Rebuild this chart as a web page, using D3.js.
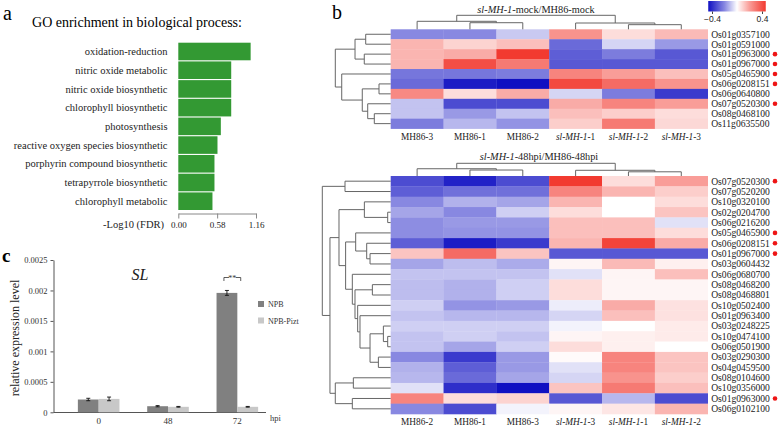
<!DOCTYPE html>
<html>
<head>
<meta charset="utf-8">
<script src="https://cdn.jsdelivr.net/npm/d3@7"></script>
<style>
body { margin: 0; background: #fff; }
svg { display: block; font-family: "Liberation Serif", "Times New Roman", serif; }
</style>
</head>
<body>
<svg id="fig" width="778" height="427"></svg>
<script>
// ---------- panel a : GO enrichment ----------
var goTerms = ["oxidation-reduction", "nitric oxide metabolic", "nitric oxide biosynthetic",
    "chlorophyll biosynthetic", "photosynthesis", "reactive oxygen species biosynthetic",
    "porphyrin compound biosynthetic", "tetrapyrrole biosynthetic", "chlorophyll metabolic"];
var goFdr = [1.08, 0.79, 0.79, 0.79, 0.635, 0.585, 0.54, 0.54, 0.51];
var goTicks = [0, 0.58, 1.16];

// ---------- panel c : qPCR ----------
var hpi = ["0", "48", "72"];
var lines = ["NPB", "NPB-Pizt"];
var exprNPB = [0.00021, 0.0001, 0.00196];
var errNPB = [0.00002, 0.00001, 0.00004];
var exprPizt = [0.00022, 0.00009, 0.00009];
var errPizt = [0.00003, 0.000006, 0.000006];
var exprTicks = [0, 0.0005, 0.001, 0.0015, 0.002, 0.0025];

// ---------- panel b : heatmaps ----------
var topCols = ["MH86-3", "MH86-1", "MH86-2", "sl-MH-1-1", "sl-MH-1-2", "sl-MH-1-3"];
var topGenes = ["Os01g0357100", "Os01g0591000", "Os01g0963000", "Os01g0967000", "Os05g0465900",
    "Os06g0208151", "Os06g0640800", "Os07g0520300", "Os08g0468100", "Os11g0635500"];
var topValues = [
    [-0.2, -0.2, -0.09, 0.22, 0.07, 0.14],
    [0.15, 0.09, 0.13, -0.25, -0.07, -0.17],
    [0.15, 0.17, 0.42, -0.27, -0.22, -0.28],
    [0.15, 0.36, 0.27, -0.28, -0.28, -0.28],
    [-0.23, -0.23, -0.22, 0.25, 0.2, 0.13],
    [-0.25, -0.38, -0.46, 0.37, 0.3, 0.22],
    [0.24, 0.07, 0.17, -0.07, -0.22, -0.33],
    [-0.1, -0.3, -0.3, 0.17, 0.25, 0.2],
    [-0.1, -0.17, -0.1, 0.13, 0.1, 0.07],
    [-0.22, -0.12, -0.18, 0.1, 0.27, 0.08]
];
var topMarked = ["Os01g0963000", "Os01g0967000", "Os05g0465900", "Os06g0208151", "Os07g0520300"];
// trees: [height, left, right], leaves are row/column indices
var topRowTree = [1.0, [0.644, [0.451, 0, 1], [0.477, 2, 3]],
    [0.884, 4, [0.513, [0.211, 5, 6], [0.415, 7, [0.296, 8, 9]]]]];
var topColTree = [1.0, [0.571, 0, [0.471, 1, 2]], [0.45, 3, [0.33, 4, 5]]];

var botCols = ["MH86-2", "MH86-1", "MH86-3", "sl-MH-1-3", "sl-MH-1-1", "sl-MH-1-2"];
var botGenes = ["Os07g0520300", "Os07g0520200", "Os10g0320100", "Os02g0204700", "Os06g0216200",
    "Os05g0465900", "Os06g0208151", "Os01g0967000", "Os03g0604432", "Os06g0680700",
    "Os08g0468200", "Os08g0468801", "Os10g0502400", "Os01g0963400", "Os03g0248225",
    "Os10g0474100", "Os06g0501900", "Os03g0290300", "Os04g0459500", "Os08g0104600",
    "Os10g0356000", "Os01g0963000", "Os06g0102100"];
var botValues = [
    [-0.3, -0.37, -0.3, 0.4, 0.07, 0.2],
    [-0.27, -0.24, -0.24, 0.25, 0.15, 0.1],
    [-0.2, -0.13, -0.15, 0.15, 0.0, 0.07],
    [-0.15, -0.2, -0.08, 0.07, 0.0, 0.12],
    [-0.19, -0.17, -0.17, 0.13, 0.13, -0.05],
    [-0.19, -0.18, -0.18, 0.13, 0.13, 0.07],
    [-0.27, -0.38, -0.33, 0.15, 0.38, 0.17],
    [0.12, 0.3, 0.12, -0.28, -0.28, -0.28],
    [-0.15, -0.11, -0.14, 0.02, 0.14, 0.03],
    [-0.1, -0.1, -0.1, -0.05, 0.02, 0.13],
    [-0.11, -0.13, -0.08, 0.07, 0.02, 0.02],
    [-0.11, -0.13, -0.08, 0.07, 0.02, 0.02],
    [-0.08, -0.18, -0.17, -0.03, 0.17, 0.06],
    [-0.1, -0.12, -0.12, -0.07, 0.13, 0.06],
    [-0.08, -0.08, -0.08, -0.02, 0.0, 0.04],
    [-0.1, -0.08, -0.1, 0.02, 0.03, 0.04],
    [-0.1, -0.15, -0.08, 0.07, 0.03, 0.0],
    [-0.2, -0.33, -0.17, 0.01, 0.25, 0.12],
    [-0.13, -0.27, -0.17, -0.05, 0.25, 0.12],
    [-0.12, -0.25, -0.15, -0.07, 0.22, 0.1],
    [-0.05, -0.35, -0.45, 0.12, 0.27, 0.13],
    [0.25, 0.07, 0.09, -0.28, -0.12, -0.3],
    [-0.2, -0.3, -0.02, 0.02, 0.05, 0.15]
];
var botMarked = ["Os07g0520300", "Os05g0465900", "Os06g0208151", "Os01g0967000", "Os01g0963000"];
var botRowTree = [1.0,
    [0.668, 0, 1],
    [0.888,
        [0.756,
            [0.385, 2, [0.044, 3, 4]],
            [0.659,
                [0.512, 5, [0.351, 6, [0.302, 7, 8]]],
                [0.561, 9, [0.522, [0.268, 10, 11],
                    [0.483, 12, [0.449, 13, [0.302, [0.107, 14, [0.044, 15, 16]], [0.18, 17, 18]]]]]]]],
        [0.81, [0.546, 19, 20], [0.561, 21, 22]]]];
var botColTree = [1.0, [0.571, 0, [0.471, 1, 2]], [0.45, 3, [0.33, 4, 5]]];

var colorTicks = [-0.4, 0.4];

var svg = d3.select("#fig");

var heatColor = d3.scaleLinear()
    .domain([-0.4, 0, 0.4])
    .range(["#1010c2", "#ffffff", "#f23a30"])
    .clamp(true);

// ======== panel a ========
(function () {
    var g = svg.append("g");
    g.append("text").attr("x", 3).attr("y", 20).attr("font-size", 20).text("a");
    g.append("text").attr("x", 137).attr("y", 27).attr("font-size", 14)
        .attr("text-anchor", "middle").text("GO enrichment in biological process:");

    var x = d3.scaleLinear().domain([0, 1.16]).range([178.3, 256]);
    var y = d3.scaleBand().domain(goTerms).range([42.7, 210]).paddingInner(0.06);

    g.selectAll("rect.go").data(goTerms).enter().append("rect")
        .attr("x", x(0))
        .attr("y", function (d) { return y(d); })
        .attr("width", function (d, i) { return x(goFdr[i]) - x(0); })
        .attr("height", y.bandwidth())
        .attr("fill", "#339933");

    g.selectAll("text.go").data(goTerms).enter().append("text")
        .attr("x", 167.5)
        .attr("y", function (d) { return y(d) + y.bandwidth() / 2; })
        .attr("dy", "0.35em")
        .attr("text-anchor", "end")
        .attr("font-size", 10.5)
        .attr("fill", "#222")
        .text(function (d) { return d; });

    var ax = g.append("g").attr("transform", "translate(0,213.5)")
        .call(d3.axisBottom(x).tickValues(goTicks).tickFormat(d3.format(".2f")).tickSize(5).tickSizeOuter(0));
    ax.select(".domain").attr("stroke", "#888");
    ax.selectAll(".tick line").attr("stroke", "#888");
    ax.selectAll(".tick text").attr("font-family", "Liberation Serif").attr("font-size", 9).attr("fill", "#222");

    g.append("text").attr("x", 164).attr("y", 228).attr("text-anchor", "end")
        .attr("font-size", 10.5).attr("fill", "#222").text("-Log10 (FDR)");
})();

// ======== panel c ========
(function () {
    var g = svg.append("g");
    g.append("text").attr("x", 2).attr("y", 262).attr("font-size", 19).attr("font-weight", "bold").text("c");

    var y = d3.scaleLinear().domain([0, 0.0025]).range([412.3, 260]);
    var x0 = d3.scaleBand().domain(hpi).range([64, 272]).paddingInner(0.4).paddingOuter(0.2);
    var x1 = d3.scaleBand().domain(lines).range([0, x0.bandwidth()]);
    var color = d3.scaleOrdinal().domain(lines).range(["#808080", "#c8c8c8"]);
    var series = [
        { name: "NPB", values: exprNPB, errs: errNPB },
        { name: "NPB-Pizt", values: exprPizt, errs: errPizt }
    ];

    var ay = g.append("g").attr("transform", "translate(53.5,0)")
        .call(d3.axisLeft(y).tickValues(exprTicks).tickFormat(String).tickSize(3).tickSizeOuter(0));
    ay.select(".domain").attr("stroke", "#555");
    ay.selectAll(".tick line").attr("stroke", "#555");
    ay.selectAll(".tick text").attr("font-family", "Liberation Serif").attr("font-size", 8.5).attr("fill", "#333");

    var ax = g.append("g").attr("transform", "translate(0,412.5)")
        .call(d3.axisBottom(x0).tickSize(0).tickPadding(5));
    ax.select(".domain").remove();
    ax.selectAll(".tick text").attr("font-family", "Liberation Serif").attr("font-size", 9).attr("fill", "#333");
    g.append("line").attr("x1", 53.5).attr("x2", 266).attr("y1", 412.5).attr("y2", 412.5).attr("stroke", "#555");
    g.append("text").attr("x", 270).attr("y", 421).attr("font-size", 8.5).attr("fill", "#333").text("hpi");

    series.forEach(function (s) {
        var sg = g.append("g");
        sg.selectAll("rect").data(hpi).enter().append("rect")
            .attr("x", function (d) { return x0(d) + x1(s.name); })
            .attr("y", function (d, i) { return y(s.values[i]); })
            .attr("width", x1.bandwidth())
            .attr("height", function (d, i) { return y(0) - y(s.values[i]); })
            .attr("fill", color(s.name));
        sg.selectAll("path").data(hpi).enter().append("path")
            .attr("d", function (d, i) {
                var cx = x0(d) + x1(s.name) + x1.bandwidth() / 2;
                var hi = y(s.values[i] + s.errs[i]), lo = y(s.values[i] - s.errs[i]);
                return "M" + (cx - 2) + "," + hi + "H" + (cx + 2) + "M" + cx + "," + hi + "V" + lo +
                    "M" + (cx - 2) + "," + lo + "H" + (cx + 2);
            })
            .attr("stroke", "#111").attr("stroke-width", 0.9).attr("fill", "none");
    });

    // significance bracket at 72 hpi
    var bx1 = x0("72") + x1("NPB") + x1.bandwidth() / 2 - 3;
    var bx2 = x0("72") + x1("NPB-Pizt") + x1.bandwidth() / 2 - 7;
    var by = 277.5;
    g.append("path")
        .attr("d", "M" + bx1 + "," + (by + 3.5) + "V" + by + "H" + (bx1 + 5) +
            "M" + (bx2 - 5) + "," + by + "H" + bx2 + "V" + (by + 3.5))
        .attr("stroke", "#333").attr("stroke-width", 0.8).attr("fill", "none");
    g.append("text").attr("x", (bx1 + bx2) / 2).attr("y", by + 3.5).attr("text-anchor", "middle")
        .attr("font-size", 8).attr("fill", "#333").text("**");

    g.append("text").attr("x", 140).attr("y", 280).attr("text-anchor", "middle")
        .attr("font-size", 16).attr("font-style", "italic").attr("fill", "#222").text("SL");

    g.append("text").attr("transform", "translate(19,338) rotate(-90)")
        .attr("text-anchor", "middle").attr("font-size", 12).attr("fill", "#222")
        .text("relative expression level");

    var lg = g.selectAll("g.lg").data(lines).enter().append("g")
        .attr("transform", function (d, i) { return "translate(258," + (301 + i * 16.5) + ")"; });
    lg.append("rect").attr("width", 6).attr("height", 6).attr("fill", function (d) { return color(d); });
    lg.append("text").attr("x", 10).attr("y", 6).attr("font-size", 8).attr("fill", "#333")
        .text(function (d) { return d; });
})();

// ======== panel b ========
function drawTree(g, tree, leafPos, hScale, rows) {
    function walk(node) {
        if (typeof node === "number") return [leafPos(node), 0];
        var a = walk(node[1]), b = walk(node[2]), h = node[0];
        var p = d3.path();
        if (rows) {
            p.moveTo(hScale(a[1]), a[0]); p.lineTo(hScale(h), a[0]);
            p.lineTo(hScale(h), b[0]); p.lineTo(hScale(b[1]), b[0]);
        } else {
            p.moveTo(a[0], hScale(a[1])); p.lineTo(a[0], hScale(h));
            p.lineTo(b[0], hScale(h)); p.lineTo(b[0], hScale(b[1]));
        }
        g.append("path").attr("d", p.toString())
            .attr("fill", "none").attr("stroke", "#666").attr("stroke-width", 1);
        return [(a[0] + b[0]) / 2, h];
    }
    walk(tree);
}

function colLabel(sel, name) {
    var m = name.match(/^(sl-MH-1)(-\d)$/);
    if (m) {
        sel.append("tspan").attr("font-style", "italic").text(m[1]);
        sel.append("tspan").text(m[2]);
    } else {
        sel.text(name);
    }
}

function drawHeatmap(cfg) {
    var g = svg.append("g");
    var x = d3.scaleBand().domain(cfg.cols).range([cfg.x0, cfg.x1]);
    var y = d3.scaleBand().domain(cfg.genes).range([cfg.y0, cfg.y1]);

    cfg.genes.forEach(function (gene, i) {
        g.selectAll(null).data(cfg.cols).enter().append("rect")
            .attr("x", function (c) { return x(c); })
            .attr("y", y(gene))
            .attr("width", x.bandwidth() + 0.3)
            .attr("height", y.bandwidth() + 0.3)
            .attr("fill", function (c, j) { return heatColor(cfg.values[i][j]); });
    });

    g.selectAll("text.gene").data(cfg.genes).enter().append("text")
        .attr("x", cfg.x1 + 3.5)
        .attr("y", function (d) { return y(d) + y.bandwidth() / 2; })
        .attr("dy", "0.35em")
        .attr("font-size", 9.6)
        .attr("fill", "#222")
        .text(function (d) { return d; });

    g.selectAll("circle.mark").data(cfg.genes.filter(function (d) { return cfg.marked.indexOf(d) >= 0; }))
        .enter().append("circle")
        .attr("cx", 775)
        .attr("cy", function (d) { return y(d) + y.bandwidth() / 2; })
        .attr("r", 2.3)
        .attr("fill", "#ee1515");

    g.selectAll("text.col").data(cfg.cols).enter().append("text")
        .attr("x", function (d) { return x(d) + x.bandwidth() / 2; })
        .attr("y", cfg.labelY)
        .attr("text-anchor", "middle")
        .attr("font-size", 9.3)
        .attr("fill", "#222")
        .each(function (d) { colLabel(d3.select(this), d); });

    var rowH = d3.scaleLinear().domain([0, 1]).range([cfg.x0, cfg.rowTreeLeft]);
    drawTree(g, cfg.rowTree, function (i) { return y(cfg.genes[i]) + y.bandwidth() / 2; }, rowH, true);
    var colH = d3.scaleLinear().domain([0, 1]).range([cfg.y0, cfg.colTreeTop]);
    drawTree(g, cfg.colTree, function (j) { return x(cfg.cols[j]) + x.bandwidth() / 2; }, colH, false);

    var t = g.append("text").attr("x", cfg.titleX).attr("y", cfg.titleY)
        .attr("text-anchor", "middle").attr("font-size", 10.3).attr("fill", "#222");
    t.append("tspan").attr("font-style", "italic").text("sl-MH-1");
    t.append("tspan").text(cfg.title);
}

svg.append("text").attr("x", 332).attr("y", 19).attr("font-size", 20).text("b");

drawHeatmap({
    cols: topCols, genes: topGenes, values: topValues, marked: topMarked,
    rowTree: topRowTree, colTree: topColTree,
    x0: 390.7, x1: 707.7, y0: 29.3, y1: 128.6,
    rowTreeLeft: 335.3, colTreeTop: 15.3, labelY: 140,
    title: "-mock/MH86-mock", titleX: 536, titleY: 12.5
});

drawHeatmap({
    cols: botCols, genes: botGenes, values: botValues, marked: botMarked,
    rowTree: botRowTree, colTree: botColTree,
    x0: 390.7, x1: 707.7, y0: 176, y1: 414,
    rowTreeLeft: 322.3, colTreeTop: 163.3, labelY: 425,
    title: "-48hpi/MH86-48hpi", titleX: 539, titleY: 159.5
});

// colour key
(function () {
    var cx = d3.scaleLinear().domain([-0.4, 0.4]).range([712, 762]);
    var defs = svg.append("defs");
    var grad = defs.append("linearGradient").attr("id", "key");
    [-0.46, -0.2, 0, 0.2, 0.46].forEach(function (v) {
        grad.append("stop").attr("offset", (v + 0.46) / 0.92).attr("stop-color", heatColor(v));
    });
    svg.append("rect").attr("x", cx(-0.46)).attr("y", 1).attr("width", cx(0.46) - cx(-0.46)).attr("height", 10.5)
        .attr("fill", "url(#key)");
    var ak = svg.append("g").attr("transform", "translate(0,11.5)")
        .call(d3.axisBottom(cx).tickValues(colorTicks).tickSize(2.5).tickFormat(d3.format(".1f")));
    ak.select(".domain").remove();
    ak.selectAll(".tick line").attr("stroke", "#444");
    ak.selectAll(".tick text").attr("font-family", "Liberation Sans, Arial, sans-serif")
        .attr("font-size", 8.5).attr("fill", "#222").attr("dy", "0.6em");
})();
</script>
</body>
</html>
